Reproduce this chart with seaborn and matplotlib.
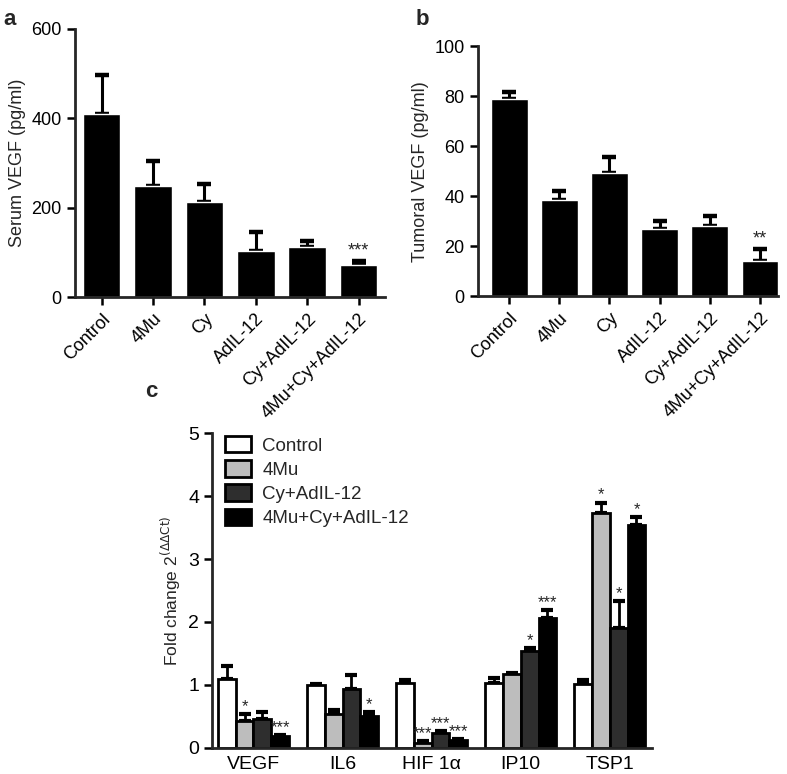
import numpy as np
import pandas as pd
import matplotlib
matplotlib.use("Agg")
import matplotlib.pyplot as plt
import seaborn as sns

sns.set_theme(style="ticks")
plt.rcParams["font.family"] = ["Liberation Sans", "DejaVu Sans"]

# panel a / b data
groups = ["Control", "4Mu", "Cy", "AdIL-12", "Cy+AdIL-12", "4Mu+Cy+AdIL-12"]
serumVEGF = [410, 249, 212, 104, 113, 72]
serumErr = [86, 55, 41, 41, 12, 10]
serumStars = ["", "", "", "", "", "***"]
tumorVEGF = [79, 38.7, 49.3, 27, 28, 14.3]
tumorErr = [2.6, 3.5, 6.4, 3.0, 4.0, 4.8]
tumorStars = ["", "", "", "", "", "**"]

# panel c data
genes = ["VEGF", "IL6", "HIF 1α", "IP10", "TSP1"]
treatments = ["Control", "4Mu", "Cy+AdIL-12", "4Mu+Cy+AdIL-12"]
foldChange = {
    "Control": [1.10, 1.00, 1.03, 1.03, 1.01],
    "4Mu": [0.43, 0.54, 0.08, 1.17, 3.74],
    "Cy+AdIL-12": [0.46, 0.93, 0.24, 1.54, 1.91],
    "4Mu+Cy+AdIL-12": [0.18, 0.50, 0.12, 2.07, 3.55],
}
foldErr = {
    "Control": [0.20, 0.01, 0.04, 0.08, 0.06],
    "4Mu": [0.10, 0.06, 0.02, 0.02, 0.16],
    "Cy+AdIL-12": [0.10, 0.23, 0.03, 0.05, 0.42],
    "4Mu+Cy+AdIL-12": [0.02, 0.06, 0.02, 0.12, 0.12],
}
foldStars = {
    "Control": ["", "", "", "", ""],
    "4Mu": ["*", "", "***", "", "*"],
    "Cy+AdIL-12": ["", "", "***", "*", "*"],
    "4Mu+Cy+AdIL-12": ["***", "*", "***", "***", "*"],
}
palette = {"Control": "white", "4Mu": "#bdbdbd", "Cy+AdIL-12": "#2e2e2e", "4Mu+Cy+AdIL-12": "black"}

fig = plt.figure(figsize=(7.87, 7.74), dpi=100)
axA = fig.add_axes([0.095, 0.616, 0.394, 0.347])
axB = fig.add_axes([0.607, 0.617, 0.382, 0.323])
axC = fig.add_axes([0.270, 0.034, 0.558, 0.406])


def style_axis(ax, size=13):
    sns.despine(ax=ax)
    for s in ["left", "bottom"]:
        ax.spines[s].set_linewidth(2)
    ax.tick_params(width=1.8, length=6, labelsize=size, colors="black")
    ax.set_xlabel("")


def add_errors(ax, bars, errs, stars, lw=2.2, cap=5, off=0, size=13):
    for bar, e, st in zip(bars, errs, stars):
        x = bar.get_x() + bar.get_width() / 2
        h = bar.get_height()
        ax.errorbar(x, h, yerr=[[0], [e]], fmt="none", ecolor="black",
                    elinewidth=lw, capsize=cap, capthick=lw + 1, zorder=1)
        if st:
            ax.text(x, h + e + off, st, ha="center", va="bottom", fontsize=size)


def simple_panel(ax, vals, errs, stars, ylim, yticks, ylabel, left, right, off):
    df = pd.DataFrame({"group": groups, "value": vals})
    sns.barplot(data=df, x="group", y="value", color="black", width=0.73,
                errorbar=None, ax=ax, zorder=2, saturation=1)
    add_errors(ax, ax.patches, errs, stars, off=off)
    ax.set_ylim(*ylim)
    ax.set_yticks(yticks)
    ax.set_xlim(left, right)
    ax.set_ylabel(ylabel, fontsize=13)
    style_axis(ax)
    ax.set_xticks(range(len(groups)))
    ax.set_xticklabels(groups, rotation=45, ha="right", rotation_mode="anchor")


simple_panel(axA, serumVEGF, serumErr, serumStars, (0, 600), [0, 200, 400, 600],
             "Serum VEGF (pg/ml)", -0.52, 5.51, 2)
simple_panel(axB, tumorVEGF, tumorErr, tumorStars, (0, 100), [0, 20, 40, 60, 80, 100],
             "Tumoral VEGF (pg/ml)", -0.63, 5.37, 0.5)

# panel c
rows = []
for t in treatments:
    for g, v in zip(genes, foldChange[t]):
        rows.append({"gene": g, "treatment": t, "value": v})
dfc = pd.DataFrame(rows)
sns.barplot(data=dfc, x="gene", y="value", hue="treatment", hue_order=treatments,
            order=genes, palette=palette, edgecolor="black", linewidth=2,
            width=0.8, errorbar=None, ax=axC, zorder=2, saturation=1)
bars = [p for p in axC.patches if p.get_height() > 0][:len(genes) * len(treatments)]
for i, t in enumerate(treatments):
    tb = sorted(bars[i * len(genes):(i + 1) * len(genes)], key=lambda b: b.get_x())
    add_errors(axC, tb, foldErr[t], foldStars[t], lw=2, cap=4, off=0.0, size=12)
axC.set_ylim(0, 5)
axC.set_xlim(-0.46, 4.47)
axC.set_ylabel(r"Fold change 2$^{(\Delta\Delta\mathrm{Ct})}$", fontsize=12.5)
style_axis(axC, size=14)
axC.tick_params(axis="x", length=0, pad=6)
leg = axC.legend(loc="upper left", frameon=False, fontsize=13.5, handlelength=1.4,
                 handleheight=0.95, labelspacing=0.3, handletextpad=0.6,
                 bbox_to_anchor=(-0.01, 1.045))
for h in leg.legend_handles:
    h.set_edgecolor("black")
    h.set_linewidth(2)

fig.text(0.004, 0.988, "a", fontsize=16, fontweight="bold", va="top")
fig.text(0.528, 0.988, "b", fontsize=16, fontweight="bold", va="top")
fig.text(0.184, 0.508, "c", fontsize=16, fontweight="bold", va="top")

fig.savefig("out.png", dpi=100)
